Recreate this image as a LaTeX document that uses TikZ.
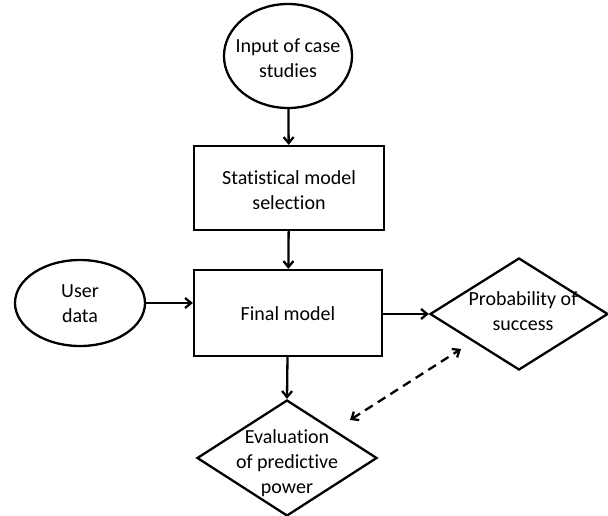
\documentclass[tikz,border=0pt]{standalone}
\usepackage{fontspec}
\setmainfont{Carlito}[Ligatures=NoCommon]
\usetikzlibrary{shapes.geometric,arrows.meta}
\begin{document}
\begin{tikzpicture}[x=1pt,y=-1pt,
  every node/.style={font=\fontsize{20}{25}\selectfont, align=center},
  shp/.style={draw, line width=2.3pt, inner sep=0pt},
  boxn/.style={shp, rectangle},
  ell/.style={shp, ellipse},
  dia/.style={shp, diamond},
  txt/.style={inner sep=0pt},
  conn/.style={line width=2.3pt, -{Straight Barb[length=6pt,width=10pt,line width=2.3pt]}},
  dconn/.style={line width=2.3pt, dash pattern=on 9pt off 6pt, {Straight Barb[length=6pt,width=10pt,line width=2.3pt]}-{Straight Barb[length=6pt,width=10pt,line width=2.3pt]}}
]
\useasboundingbox (0,0) rectangle (608,516);
\node[ell, minimum width=128pt, minimum height=104pt] (input) at (288,56) {};
\node[txt] (inputtxt) at (288,58) {Input of case\\studies};
\node[boxn, minimum width=190pt, minimum height=84pt] (stat) at (289,188) {};
\node[txt] (stattxt) at (289,190) {Statistical model\\selection};
\node[boxn, minimum width=188pt, minimum height=86pt] (final) at (288,313) {};
\node[txt] (finaltxt) at (288,314) {Final model};
\node[ell, minimum width=130pt, minimum height=86pt] (user) at (80,303) {};
\node[txt] (usertxt) at (80,304) {User\\data};
\node[dia, minimum width=178pt, minimum height=112pt] (prob) at (519,314) {};
\node[txt] (probtxt) at (523,311) {Probability of\\success};
\node[dia, minimum width=180pt, minimum height=116pt] (eval) at (287,458) {};
\node[txt] (evaltxt) at (287,463) {Evaluation\\of predictive\\power};
\draw[conn] (input) -- (stat);
\draw[conn] (stat) -- (final);
\draw[conn] (user.east) -- (final.west |- user.east);
\draw[conn] (final.east |- prob.west) -- (prob.west);
\draw[conn] (final) -- (eval.north);
\coordinate (da) at (350,420);
\coordinate (db) at (461,349);
\draw[dconn] (da) -- (db);
\end{tikzpicture}
\end{document}
